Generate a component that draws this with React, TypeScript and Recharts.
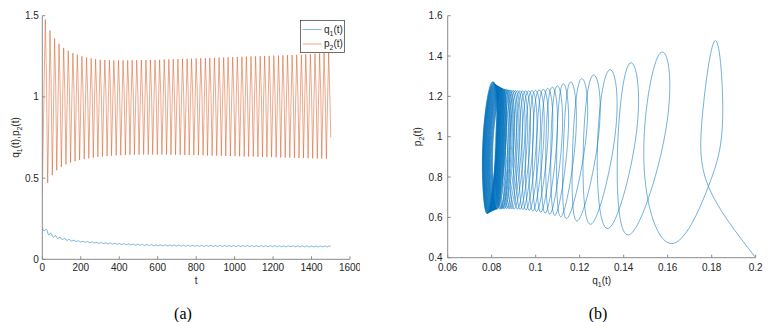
import React from 'react';
import { LineChart, Line, XAxis, YAxis, Legend } from 'recharts';

// Samples along the trajectory: start, then per cycle [rising side, peak, falling side, trough]
const T = [
  0, 5,
  10, 16, 22, 25, 28,
  34, 40, 46, 52,
  58, 64, 70, 75,
  81, 87, 93, 99,
  105, 111, 117, 123,
  129, 135, 141, 147,
  153, 159, 165, 170,
  176, 182, 188, 194,
  200, 206, 212, 218,
  224, 230, 236, 242,
  248, 254, 260, 265,
  271, 277, 283, 289,
  295, 301, 307, 313,
  319, 325, 331, 337,
  343, 349, 355, 360,
  366, 372, 378, 384,
  390, 396, 402, 408,
  414, 420, 426, 432,
  438, 444, 450, 456,
  461, 467, 473, 479,
  485, 491, 497, 503,
  509, 515, 521, 527,
  533, 539, 545, 551,
  557, 562, 568, 574,
  580, 586, 592, 598,
  604, 610, 616, 622,
  628, 634, 640, 646,
  652, 658, 664, 669,
  675, 681, 687, 693,
  699, 705, 711, 717,
  723, 729, 735, 741,
  747, 753, 759, 764,
  770, 776, 782, 788,
  794, 800, 806, 812,
  818, 824, 830, 836,
  842, 848, 854, 859,
  865, 871, 877, 883,
  889, 895, 901, 907,
  913, 919, 925, 931,
  937, 943, 949, 954,
  960, 966, 972, 978,
  984, 990, 996, 1002,
  1008, 1014, 1020, 1026,
  1032, 1038, 1044, 1050,
  1055, 1061, 1067, 1073,
  1079, 1085, 1091, 1097,
  1103, 1109, 1115, 1121,
  1127, 1133, 1139, 1145,
  1150, 1156, 1162, 1168,
  1174, 1180, 1186, 1192,
  1198, 1204, 1210, 1216,
  1222, 1228, 1234, 1240,
  1245, 1251, 1257, 1263,
  1269, 1275, 1281, 1287,
  1293, 1299, 1305, 1311,
  1317, 1323, 1329, 1335,
  1341, 1347, 1353, 1358,
  1364, 1370, 1376, 1382,
  1388, 1394, 1400, 1406,
  1412, 1418, 1424, 1430,
  1436, 1442, 1448, 1453,
  1459, 1465, 1471, 1477,
  1483, 1489, 1495, 1500,
];

const Q1 = [
  0.2, 0.1785,
  0.1759, 0.1818, 0.185, 0.1785, 0.1615,
  0.1492, 0.1562, 0.1598, 0.1432,
  0.1371, 0.1424, 0.1462, 0.1335,
  0.128, 0.133, 0.1365, 0.1255,
  0.1216, 0.1257, 0.1289, 0.1192,
  0.1168, 0.1205, 0.1232, 0.1143,
  0.1126, 0.1156, 0.1183, 0.1116,
  0.1096, 0.1122, 0.1148, 0.1089,
  0.1069, 0.1095, 0.1121, 0.1066,
  0.1046, 0.1072, 0.1098, 0.1045,
  0.1025, 0.1051, 0.1077, 0.1025,
  0.1005, 0.1031, 0.1057, 0.1006,
  0.0986, 0.1012, 0.1038, 0.0989,
  0.0969, 0.0995, 0.1021, 0.0973,
  0.0953, 0.0979, 0.1005, 0.0958,
  0.0938, 0.0964, 0.099, 0.0944,
  0.0924, 0.095, 0.0976, 0.0931,
  0.0911, 0.0937, 0.0963, 0.0919,
  0.0899, 0.0925, 0.0951, 0.0904,
  0.0882, 0.0914, 0.0939, 0.0894,
  0.0872, 0.0904, 0.0929, 0.0885,
  0.0863, 0.0895, 0.092, 0.0877,
  0.0855, 0.0887, 0.0912, 0.0869,
  0.0847, 0.0879, 0.0904, 0.086,
  0.0838, 0.0874, 0.0899, 0.0855,
  0.0833, 0.0869, 0.0894, 0.085,
  0.0828, 0.0864, 0.0889, 0.0846,
  0.0824, 0.086, 0.0885, 0.0842,
  0.082, 0.0856, 0.0881, 0.0838,
  0.0816, 0.0852, 0.0877, 0.0827,
  0.0805, 0.0848, 0.0868, 0.0825,
  0.0803, 0.0846, 0.0866, 0.0823,
  0.0801, 0.0844, 0.0864, 0.0821,
  0.0799, 0.0842, 0.0862, 0.0819,
  0.0797, 0.084, 0.086, 0.0817,
  0.0795, 0.0838, 0.0858, 0.0815,
  0.0793, 0.0836, 0.0856, 0.0813,
  0.0791, 0.0834, 0.0854, 0.0812,
  0.079, 0.0833, 0.0853, 0.081,
  0.0788, 0.0831, 0.0851, 0.0809,
  0.0787, 0.083, 0.085, 0.0807,
  0.0785, 0.0828, 0.0848, 0.0806,
  0.0784, 0.0827, 0.0847, 0.0804,
  0.0782, 0.0825, 0.0845, 0.0803,
  0.0781, 0.0824, 0.0844, 0.0801,
  0.0779, 0.0822, 0.0842, 0.08,
  0.0778, 0.0821, 0.0841, 0.0798,
  0.0776, 0.0819, 0.0839, 0.0797,
  0.0775, 0.0818, 0.0838, 0.0796,
  0.0774, 0.0817, 0.0837, 0.0794,
  0.0772, 0.0815, 0.0835, 0.0793,
  0.0771, 0.0814, 0.0834, 0.0792,
  0.077, 0.0813, 0.0833, 0.079,
  0.0768, 0.0811, 0.0831, 0.0789,
  0.0767, 0.081, 0.083, 0.0788,
  0.0766, 0.0809, 0.0829, 0.0787,
  0.0765, 0.0808, 0.0828, 0.0786,
  0.0764, 0.0807, 0.0827, 0.0785,
  0.0763, 0.0806, 0.0826, 0.0784,
  0.0762, 0.0805, 0.0825, 0.0783,
  0.0761, 0.0804, 0.0824, 0.0782,
  0.076, 0.0803, 0.0823, 0.0781,
  0.0759, 0.0802, 0.0822, 0.0812,
];

const P2 = [
  0.4, 0.753,
  1.12, 1.476, 1.1, 0.753, 0.47,
  0.87, 1.409, 1.08, 0.518,
  0.9, 1.36, 1.06, 0.548,
  0.92, 1.327, 1.05, 0.568,
  0.93, 1.302, 1.04, 0.584,
  0.94, 1.285, 1.03, 0.595,
  0.95, 1.27, 1.02, 0.604,
  0.95, 1.26, 1.02, 0.611,
  0.95, 1.25, 1.02, 0.617,
  0.95, 1.243, 1.02, 0.622,
  0.95, 1.237, 1.02, 0.626,
  0.95, 1.232, 1.02, 0.63,
  0.95, 1.229, 1.02, 0.633,
  0.95, 1.227, 1.02, 0.636,
  0.95, 1.226, 1.02, 0.638,
  0.95, 1.225, 1.02, 0.64,
  0.95, 1.225, 1.02, 0.641,
  0.95, 1.225, 1.02, 0.642,
  0.95, 1.225, 1.02, 0.643,
  0.95, 1.226, 1.02, 0.644,
  0.95, 1.226, 1.02, 0.644,
  0.95, 1.227, 1.02, 0.645,
  0.95, 1.227, 1.02, 0.645,
  0.95, 1.228, 1.02, 0.645,
  0.95, 1.228, 1.02, 0.645,
  0.95, 1.229, 1.02, 0.645,
  0.95, 1.23, 1.02, 0.644,
  0.95, 1.231, 1.02, 0.644,
  0.95, 1.232, 1.02, 0.643,
  0.95, 1.233, 1.02, 0.643,
  0.95, 1.234, 1.02, 0.642,
  0.95, 1.235, 1.02, 0.642,
  0.95, 1.236, 1.02, 0.641,
  0.95, 1.237, 1.02, 0.641,
  0.95, 1.238, 1.02, 0.64,
  0.95, 1.239, 1.02, 0.639,
  0.95, 1.24, 1.02, 0.638,
  0.95, 1.241, 1.02, 0.638,
  0.95, 1.242, 1.02, 0.637,
  0.95, 1.243, 1.02, 0.636,
  0.95, 1.244, 1.02, 0.635,
  0.95, 1.245, 1.02, 0.635,
  0.95, 1.246, 1.02, 0.634,
  0.95, 1.247, 1.02, 0.633,
  0.95, 1.248, 1.02, 0.632,
  0.95, 1.249, 1.02, 0.632,
  0.95, 1.25, 1.02, 0.631,
  0.95, 1.251, 1.02, 0.63,
  0.95, 1.252, 1.02, 0.629,
  0.95, 1.253, 1.02, 0.629,
  0.95, 1.254, 1.02, 0.628,
  0.95, 1.255, 1.02, 0.627,
  0.95, 1.256, 1.02, 0.626,
  0.95, 1.257, 1.02, 0.626,
  0.95, 1.258, 1.02, 0.625,
  0.95, 1.259, 1.02, 0.624,
  0.95, 1.26, 1.02, 0.623,
  0.95, 1.262, 1.02, 0.623,
  0.95, 1.264, 1.02, 0.622,
  0.95, 1.266, 1.02, 0.621,
  0.95, 1.268, 1.02, 0.62,
  0.95, 1.27, 1.02, 0.62,
  0.95, 1.272, 1.02, 0.75,
];

const tTicks = [0, 200, 400, 600, 800, 1000, 1200, 1400, 1600];
const yTicksA = [0, 0.5, 1, 1.5];
const qTicks = [0.06, 0.08, 0.1, 0.12, 0.14, 0.16, 0.18, 0.2];
const pTicks = [0.4, 0.6, 0.8, 1, 1.2, 1.4, 1.6];

const records = T.map((t, i) => ({ t, q: Q1[i], p: P2[i] }));

const AX = '#8a8a8a';
const TXT = '#262626';
const BLUE = '#0072BD';
const ORANGE = '#D95319';
const tickStyle = { fontFamily: '"Liberation Sans", Arial, sans-serif', fontSize: 10, fill: TXT };

const Sub = ({ children }: { children: React.ReactNode }) => (
  <tspan fontSize={7} dy={3}>{children}</tspan>
);

const LegendBox = () => (
  <svg width={45} height={33} style={{ display: 'block' }}>
    <rect x={0.5} y={0.5} width={44} height={32} fill="#fff" stroke="#333" strokeWidth={0.7} />
    <line x1={2.7} x2={21.7} y1={9.5} y2={9.5} stroke={BLUE} strokeWidth={0.5} />
    <line x1={2.7} x2={21.7} y1={24} y2={24} stroke={ORANGE} strokeWidth={0.5} />
    <text x={24} y={12.5} style={tickStyle}>
      q<Sub>1</Sub><tspan dy={-3}>(t)</tspan>
    </text>
    <text x={24} y={27} style={tickStyle}>
      p<Sub>2</Sub><tspan dy={-3}>(t)</tspan>
    </text>
  </svg>
);

export default function App() {
  return (
    <div style={{ position: 'absolute', left: 0, top: 0, width: 773, height: 322, background: '#fff', overflow: 'hidden' }}>
      <div style={{ position: 'absolute', left: 0, top: 0 }}>
        <LineChart width={360} height={300} data={records}
          margin={{ top: 15.7, right: 10, left: 0, bottom: 10.7 }}>
          <XAxis xAxisId="b" type="number" dataKey="t" domain={[0, 1600]} ticks={tTicks} interval={0}
            allowDataOverflow height={30} tickSize={-3} tickMargin={8}
            axisLine={{ stroke: AX }} tickLine={{ stroke: AX }} tick={tickStyle} />
          <XAxis xAxisId="top" orientation="top" type="number" dataKey="t" domain={[0, 1600]} ticks={tTicks}
            interval={0} allowDataOverflow height={0} tickSize={-3} tick={false}
            axisLine={{ stroke: AX }} tickLine={{ stroke: AX }} />
          <YAxis yAxisId="l" type="number" domain={[0, 1.5]} ticks={yTicksA} interval={0}
            allowDataOverflow width={42.3} tickSize={-3} tickMargin={6.5}
            axisLine={{ stroke: AX }} tickLine={{ stroke: AX }} tick={tickStyle} />
          <YAxis yAxisId="r" orientation="right" type="number" domain={[0, 1.5]} ticks={yTicksA} interval={0}
            allowDataOverflow width={0} tickSize={-3} tick={false}
            axisLine={{ stroke: AX }} tickLine={{ stroke: AX }} />
          <Legend layout="vertical" align="center" verticalAlign="middle"
            wrapperStyle={{ left: 300, top: 20, width: 45, height: 33 }}
            content={() => <LegendBox />} />
          <Line xAxisId="b" yAxisId="l" dataKey="q" type="linear" stroke={BLUE} strokeWidth={0.5}
            dot={false} activeDot={false} isAnimationActive={false} name="q1(t)" />
          <Line xAxisId="b" yAxisId="l" dataKey="p" type="linear" stroke={ORANGE} strokeWidth={0.5}
            dot={false} activeDot={false} isAnimationActive={false} name="p2(t)" />
        </LineChart>
      </div>
      <div style={{ position: 'absolute', left: 380, top: 0 }}>
        <LineChart width={393} height={300} data={records}
          margin={{ top: 15.7, right: 17.3, left: 0, bottom: 12.3 }}>
          <XAxis xAxisId="b" type="number" dataKey="q" domain={[0.06, 0.2]} ticks={qTicks} interval={0}
            allowDataOverflow height={30} tickSize={-3} tickMargin={9}
            axisLine={{ stroke: AX }} tickLine={{ stroke: AX }} tick={tickStyle} />
          <XAxis xAxisId="top" orientation="top" type="number" dataKey="q" domain={[0.06, 0.2]} ticks={qTicks}
            interval={0} allowDataOverflow height={0} tickSize={-3} tick={false}
            axisLine={{ stroke: AX }} tickLine={{ stroke: AX }} />
          <YAxis yAxisId="l" type="number" domain={[0.4, 1.6]} ticks={pTicks} interval={0}
            allowDataOverflow width={67.7} tickSize={-3} tickMargin={8.2}
            axisLine={{ stroke: AX }} tickLine={{ stroke: AX }} tick={tickStyle} />
          <YAxis yAxisId="r" orientation="right" type="number" domain={[0.4, 1.6]} ticks={pTicks} interval={0}
            allowDataOverflow width={0} tickSize={-3} tick={false}
            axisLine={{ stroke: AX }} tickLine={{ stroke: AX }} />
          <Line xAxisId="b" yAxisId="l" dataKey="p" type="natural" stroke={BLUE} strokeWidth={0.55}
            dot={false} activeDot={false} isAnimationActive={false} />
        </LineChart>
      </div>
      <svg width={773} height={322} style={{ position: 'absolute', left: 0, top: 0, pointerEvents: 'none' }}>
        <text transform="translate(18.5,137.5) rotate(-90)" textAnchor="middle" style={tickStyle}>
          q<Sub>1</Sub><tspan dy={-3}>(t),p</tspan><Sub>2</Sub><tspan dy={-3}>(t)</tspan>
        </text>
        <text x={196.2} y={284} textAnchor="middle" style={tickStyle}>t</text>
        <text transform="translate(421,136.7) rotate(-90)" textAnchor="middle" style={tickStyle}>
          p<Sub>2</Sub><tspan dy={-3}>(t)</tspan>
        </text>
        <text x={601.7} y={284} textAnchor="middle" style={tickStyle}>
          q<Sub>1</Sub><tspan dy={-3}>(t)</tspan>
        </text>
        <text x={183} y={319} textAnchor="middle"
          style={{ fontFamily: '"Liberation Serif", "Times New Roman", serif', fontSize: 16, fill: '#000' }}>(a)</text>
        <text x={598} y={319} textAnchor="middle"
          style={{ fontFamily: '"Liberation Serif", "Times New Roman", serif', fontSize: 16, fill: '#000' }}>(b)</text>
      </svg>
    </div>
  );
}
